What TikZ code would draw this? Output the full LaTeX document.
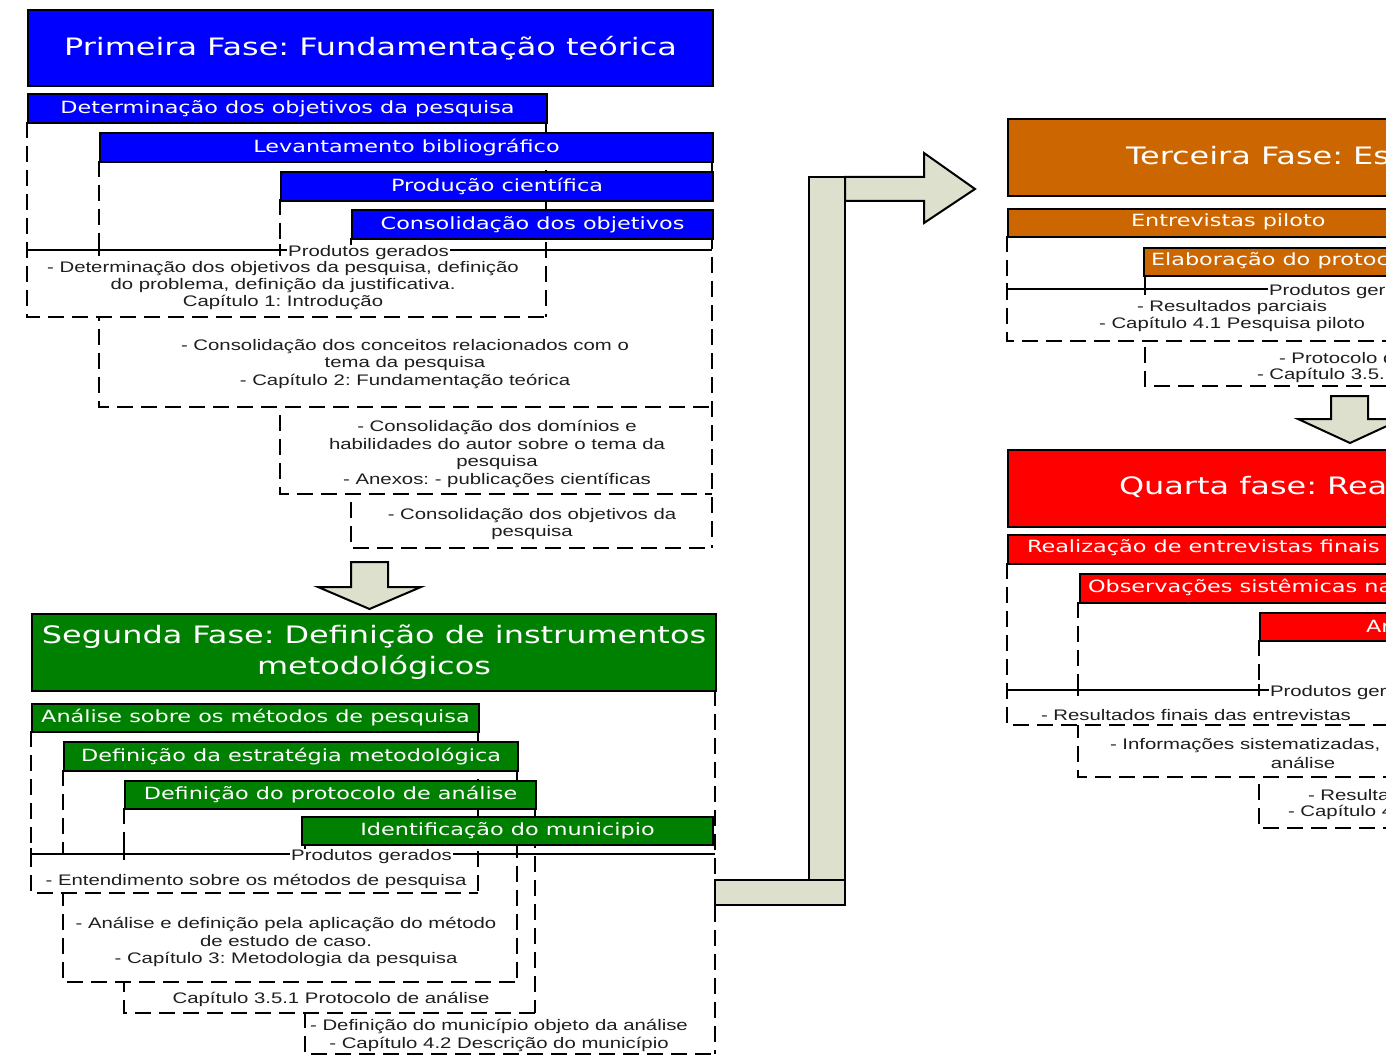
\documentclass[tikz,border=0pt]{standalone}
\usepackage{fontspec}
\newfontfamily\headfont[FakeStretch=1.33]{DejaVu Sans}
\newfontfamily\bodyfont[FakeStretch=1.33]{Liberation Sans}
\definecolor{faseA}{RGB}{0,0,255}
\definecolor{faseB}{RGB}{0,128,0}
\definecolor{faseC}{RGB}{204,102,0}
\definecolor{faseD}{RGB}{255,0,0}
\definecolor{setafill}{RGB}{221,224,204}
\definecolor{txtgray}{RGB}{30,30,30}
\frenchspacing

\begin{document}
\begin{tikzpicture}[x=1pt,y=-1pt,line width=2pt,
  titlebox/.style={draw=black,line width=2pt,anchor=north west,inner sep=0pt,text=white,align=center,font=\headfont\fontsize{24}{31}\selectfont},
  taskbar/.style={draw=black,line width=2pt,anchor=north west,inner sep=0pt,minimum height=29pt,text=white,font=\headfont\fontsize{16.8}{20}\selectfont},
  titletext/.style={inner sep=0pt,anchor=west,text=white,font=\headfont\fontsize{24}{31}\selectfont},
  bartext/.style={inner sep=0pt,anchor=west,text=white,font=\headfont\fontsize{16.8}{20}\selectfont},
  prodtext/.style={inner sep=0pt,align=center,yshift=-2.5pt,text=txtgray,font=\bodyfont\fontsize{15.3}{17.4}\selectfont},
  prodlabel/.style={prodtext,fill=white,inner xsep=1pt},
  dashline/.style={dash pattern=on 16pt off 8pt,line width=2pt},
  blockarrow/.style={draw=black,line width=2pt,fill=setafill,line join=miter}
]
\useasboundingbox (0,0) rectangle (1386,1059);
\clip (0,0) rectangle (1386,1059);

% ================= Primeira fase =================
% ---- product areas (last first, so earlier ones cover) ----
\foreach \xa/\xb/\ya/\yb in {351/712/238/548,280/712/199/494,99/712/161/407,27/546/122/317}{
  \fill[white] (\xa,250) rectangle (\xb,\yb);
  \draw[dashline] (\xa,\ya) -- (\xa,\yb) -- (\xb,\yb);
}
\draw[dashline] (546,122) -- (546,317);
\draw[dashline] (712,161) -- (712,548);
% ---- produtos gerados ----
\draw[line width=1.5pt] (27,250) -- (712,250);
\foreach \x in {27,99,280}{ \draw[line width=1.5pt] (\x,244) -- (\x,256); }
\node[prodlabel] (gerA) at (368.5,250) {Produtos gerados};
% ---- boxes ----
\node[titlebox,fill=faseA,minimum width=685pt,minimum height=76pt] (faseA) at (27,9) {Primeira Fase: Fundamenta\c{c}\~ao te\'orica};
\node[taskbar,fill=faseA,minimum width=519pt] (barA1) at (27,93) {Determina\c{c}\~ao dos objetivos da pesquisa};
\node[taskbar,fill=faseA,minimum width=613pt] (barA2) at (99,132) {Levantamento bibliogr\'afico};
\node[taskbar,fill=faseA,minimum width=432pt] (barA3) at (280,171) {Produ\c{c}\~ao cient\'ifica};
\node[taskbar,fill=faseA,minimum width=361pt] (barA4) at (351,209) {Consolida\c{c}\~ao dos objetivos};
% ---- products ----
\node[prodtext] (prodA1) at (283,283) {- Determina\c{c}\~ao dos objetivos da pesquisa, defini\c{c}\~ao\\do problema, defini\c{c}\~ao da justificativa.\\Cap\'itulo 1: Introdu\c{c}\~ao};
\node[prodtext] (prodA2) at (405,361.5) {- Consolida\c{c}\~ao dos conceitos relacionados com o\\tema da pesquisa\\- Cap\'itulo 2: Fundamenta\c{c}\~ao te\'orica};
\node[prodtext] (prodA3) at (497,451.5) {- Consolida\c{c}\~ao dos dom\'inios e\\habilidades do autor sobre o tema da\\pesquisa\\- Anexos: - publica\c{c}\~oes cient\'ificas};
\node[prodtext] (prodA4) at (532,521.5) {- Consolida\c{c}\~ao dos objetivos da\\pesquisa};

% ---- seta para a segunda fase ----
\draw[blockarrow] (351,562) -- (388,562) -- (388,587) -- (421,587) -- (369.5,609) -- (318,587) -- (351,587) -- cycle;

% ================= Segunda fase =================
\foreach \xa/\xb/\ya/\yb in {305/715/844/1054,124/535/808/1013,63/517/770/982,31/478/731/893}{
  \fill[white] (\xa,854) rectangle (\xb,\yb);
  \draw[dashline] (\xa,\ya) -- (\xa,\yb) -- (\xb,\yb);
}
\draw[dashline] (478,731) -- (478,893);
\draw[dashline] (517,770) -- (517,982);
\draw[dashline] (535,808) -- (535,1013);
\draw[dashline] (715,690) -- (715,1054);
\draw[line width=1.5pt] (31,854) -- (715,854);
\foreach \x in {31,124}{ \draw[line width=1.5pt] (\x,848) -- (\x,860); }
\node[prodlabel] (gerB) at (371.5,854) {Produtos gerados};
\node[titlebox,fill=faseB,minimum width=684pt,minimum height=77pt] (faseB) at (31,613) {Segunda Fase: Defini\c{c}\~ao de instrumentos\\metodol\'ogicos};
\node[taskbar,fill=faseB,minimum width=447pt,minimum height=28pt] (barB1) at (31,703) {An\'alise sobre os m\'etodos de pesquisa};
\node[taskbar,fill=faseB,minimum width=454pt] (barB2) at (63,741) {Defini\c{c}\~ao da estrat\'egia metodol\'ogica};
\node[taskbar,fill=faseB,minimum width=411pt,minimum height=28pt] (barB3) at (124,780) {Defini\c{c}\~ao do protocolo de an\'alise};
\node[taskbar,fill=faseB,minimum width=411pt,minimum height=28pt] (barB4) at (301,816) {Identifica\c{c}\~ao do municipio};
\node[prodtext] (prodB1) at (256,879) {- Entendimento sobre os m\'etodos de pesquisa};
\node[prodtext] (prodB2) at (286,939.5) {- An\'alise e defini\c{c}\~ao pela aplica\c{c}\~ao do m\'etodo\\de estudo de caso.\\- Cap\'itulo 3: Metodologia da pesquisa};
\node[prodtext] (prodB3) at (331,997) {Cap\'itulo 3.5.1 Protocolo de an\'alise};
\node[prodtext] (prodB4) at (499,1033) {- Defini\c{c}\~ao do munic\'ipio objeto da an\'alise\\- Cap\'itulo 4.2 Descri\c{c}\~ao do munic\'ipio};

% ---- seta dobrada para a terceira fase ----
\draw[blockarrow] (809,177) rectangle (845,880);
\draw[blockarrow] (715,880) rectangle (845,905);
\draw[blockarrow] (845,177) -- (924,177) -- (924,153) -- (975,189) -- (924,223) -- (924,201) -- (845,201) -- cycle;

% ================= Terceira fase =================
\foreach \xa/\ya/\yb in {1145/275/386,1007/236/341}{
  \fill[white] (\xa,289) rectangle (1500,\yb);
  \draw[dashline] (\xa,\ya) -- (\xa,\yb) -- (1500,\yb);
}
\draw[line width=1.5pt] (1007,289) -- (1500,289);
\foreach \x in {1007,1145}{ \draw[line width=1.5pt] (\x,283) -- (\x,295); }
\node[prodlabel,anchor=west] (gerC) at (1267,289) {Produtos gerados};
\node[titlebox,fill=faseC,minimum width=500pt,minimum height=77pt] (faseC) at (1007,118) {};
\node[titletext] (faseCtxt) at (1125,156) {Terceira Fase: Es};
\node[taskbar,fill=faseC,minimum width=500pt,minimum height=28pt] (barC1) at (1007,208) {};
\node[bartext] (barC1txt) at (1130,222) {Entrevistas piloto};
\node[taskbar,fill=faseC,minimum width=400pt,minimum height=28pt] (barC2) at (1143,247) {};
\node[bartext] (barC2txt) at (1150,261) {Elabora\c{c}\~ao do protoc};
\node[prodtext] (prodC1) at (1232,313.5) {- Resultados parciais\\- Cap\'itulo 4.1 Pesquisa piloto};
\node[prodtext,anchor=west] (prodC2a) at (1278,356) {- Protocolo d};
\node[prodtext,anchor=west] (prodC2b) at (1256,373) {- Cap\'itulo 3.5.1};

% ---- seta para a quarta fase ----
\draw[blockarrow] (1331,396) -- (1368,396) -- (1368,419) -- (1402,419) -- (1350,443) -- (1298,419) -- (1331,419) -- cycle;

% ================= Quarta fase =================
\foreach \xa/\ya/\yb in {1259/640/828,1078/602/777,1007/563/725}{
  \fill[white] (\xa,690) rectangle (1500,\yb);
  \draw[dashline] (\xa,\ya) -- (\xa,\yb) -- (1500,\yb);
}
\draw[line width=1.5pt] (1007,690) -- (1500,690);
\foreach \x in {1007,1078,1259}{ \draw[line width=1.5pt] (\x,684) -- (\x,696); }
\node[prodlabel,anchor=west] (gerD) at (1268,690) {Produtos gerados};
\node[titlebox,fill=faseD,minimum width=500pt,minimum height=77pt] (faseD) at (1007,449) {};
\node[titletext] (faseDtxt) at (1118,487) {Quarta fase: Rea};
\node[taskbar,fill=faseD,minimum width=500pt] (barD1) at (1007,534) {};
\node[bartext] (barD1txt) at (1026,548) {Realiza\c{c}\~ao de entrevistas finais};
\node[taskbar,fill=faseD,minimum width=500pt] (barD2) at (1079,573) {};
\node[bartext] (barD2txt) at (1087,587) {Observa\c{c}\~oes sist\^emicas na};
\node[taskbar,fill=faseD,minimum width=300pt,minimum height=28pt] (barD3) at (1259,612) {};
\node[bartext] (barD3txt) at (1365,626) {An};
\node[prodtext] (prodD1) at (1196,713) {- Resultados finais das entrevistas};
\node[prodtext,anchor=west] (prodD2a) at (1109,743) {- Informa\c{c}\~oes sistematizadas, p};
\node[prodtext] (prodD2b) at (1303,760) {an\'alise};
\node[prodtext,anchor=west] (prodD3a) at (1307,793) {- Resulta};
\node[prodtext,anchor=west] (prodD3b) at (1287,810) {- Cap\'itulo 4};
\end{tikzpicture}
\end{document}
